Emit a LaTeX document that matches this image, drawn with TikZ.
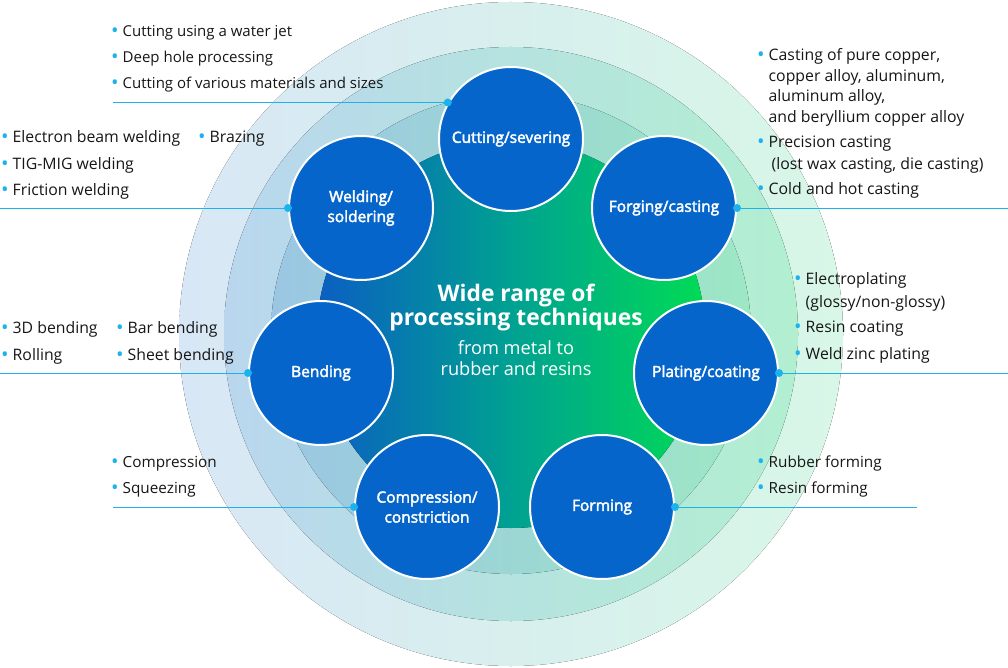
\documentclass[tikz,border=0pt]{standalone}
\usepackage{fontspec}
\setmainfont{Open Sans}
\newfontfamily\semi[FakeBold=2.6]{Open Sans}
\usetikzlibrary{positioning}
\definecolor{procblue}{HTML}{0565CA}
\definecolor{leadblue}{HTML}{1CB2EE}
\definecolor{inkgrey}{HTML}{161616}
\definecolor{outerL}{HTML}{D8E7F5}
\definecolor{outerR}{HTML}{D8F7E7}
\definecolor{midL}{HTML}{B9D6EE}
\definecolor{midR}{HTML}{B2EFD1}
\definecolor{innerL}{HTML}{9BC6E3}
\definecolor{innerR}{HTML}{9DE7C5}
\definecolor{coreL}{HTML}{0B5EC2}
\definecolor{coreM}{HTML}{00A192}
\definecolor{coreR}{HTML}{00DB55}
\newcommand\bul{\makebox[11.5pt][l]{\textcolor{leadblue}{\raisebox{-1pt}{\fontsize{20}{20}\selectfont •}}}}
\newcommand\cont{\hspace*{11.5pt}}
\tikzset{
  proc/.style={circle, draw=white, line width=2pt, fill=procblue, minimum size=144pt,
    inner sep=0pt, text=white, align=center, font=\fontsize{15.5}{20}\semi},
  lead/.style={draw=leadblue, line width=0.9pt},
  notes/.style={anchor=base west, align=left, inner sep=0pt, text=inkgrey,
    font=\fontsize{15.8}{20.5}\selectfont}
}
\begin{document}
\begin{tikzpicture}[x=1pt,y=-1pt]
  \useasboundingbox (0,0) rectangle (1008,668);
  % rings
  \fill[left color=outerL, right color=outerR] (511,334) circle (332);
  \fill[left color=midL, right color=midR] (511,334) circle (287);
  \fill[left color=innerL, right color=innerR] (511,334) circle (240);
  \fill[left color=coreL, right color=coreR, middle color=coreM] (511,334) circle (194);

  % processes
  \node[proc] (cut) at (511,139) {Cutting/severing};
  \node[proc] (forge) at (664,208) {Forging/casting};
  \node[proc] (plate) at (706,373) {Plating/coating};
  \node[proc] (form) at (602,507) {Forming};
  \node[proc] (comp) at (427,507) {Compression/\\constriction};
  \node[proc] (bend) at (321,373) {Bending};
  \node[proc] (weld) at (361,208) {Welding/\\soldering};

  \node[text=white, align=center, anchor=base, font=\fontsize{22.8}{23.5}\bfseries]
    (hub) at (516,325) {Wide range of\\processing techniques};
  \node[text=white, align=center, anchor=base, font=\fontsize{18.2}{20.5}\selectfont]
    (hubsub) at (516,375) {from metal to\\rubber and resins};

  % leads
  \coordinate (cutL) at (113,0);
  \coordinate (weldL) at (0,0);
  \coordinate (bendL) at (0,0);
  \coordinate (compL) at (113,0);
  \coordinate (forgeR) at (1008,0);
  \coordinate (plateR) at (1008,0);
  \coordinate (formR) at (917,0);
  \draw[lead] (cut.150) -- (cut.150 -| cutL);
  \draw[lead] (weld.180) -- (weld.180 -| weldL);
  \draw[lead] (bend.180) -- (bend.180 -| bendL);
  \draw[lead] (comp.180) -- (comp.180 -| compL);
  \draw[lead] (forge.0) -- (forge.0 -| forgeR);
  \draw[lead] (plate.0) -- (plate.0 -| plateR);
  \draw[lead] (form.0) -- (form.0 -| formR);
  \foreach \p in {cut.150, weld.180, bend.180, comp.180, forge.0, plate.0, form.0}
    \fill[leadblue] (\p) circle (4);

  % notes (anchored at the baseline of the last line)
  \node[notes, font=\fontsize{15}{20.5}\selectfont] (cutnote) at (111,89)
    {\bul Cutting using a water jet\\[5.5pt]
    \bul Deep hole processing\\[5.5pt]\bul Cutting of various materials and sizes};
  \node[notes] (weldnote) at (1,196) {\bul Electron beam welding\\[6pt]
    \bul TIG-MIG welding\\[6pt]\bul Friction welding};
  \node[notes] (weldnote2) at (198,143) {\bul Brazing};
  \node[notes] (bendnote) at (1,360) {\bul 3D bending\\[6.5pt]\bul Rolling};
  \node[notes] (bendnote2) at (116,360) {\bul Bar bending\\[6.5pt]\bul Sheet bending};
  \node[notes, font=\fontsize{15.3}{20.5}\selectfont] (compnote) at (111,493)
    {\bul Compression\\[5pt]\bul Squeezing};
  \node[notes] (forgenote) at (757,195) {\bul Casting of pure copper,\\
    \cont copper alloy, aluminum,\\\cont aluminum alloy,\\
    \cont and beryllium copper alloy\\[4.5pt]
    \bul Precision casting\\[2pt]\cont\hspace*{3pt}(lost wax casting, die casting)\\[4.5pt]
    \bul Cold and hot casting};
  \node[notes] (platenote) at (794,359) {\bul Electroplating\\[2.5pt]
    \cont(glossy/non-glossy)\\[4.5pt]\bul Resin coating\\[6.5pt]\bul Weld zinc plating};
  \node[notes, font=\fontsize{15.3}{20.5}\selectfont] (formnote) at (757,493)
    {\bul Rubber forming\\[5pt]\bul Resin forming};
\end{tikzpicture}
\end{document}
